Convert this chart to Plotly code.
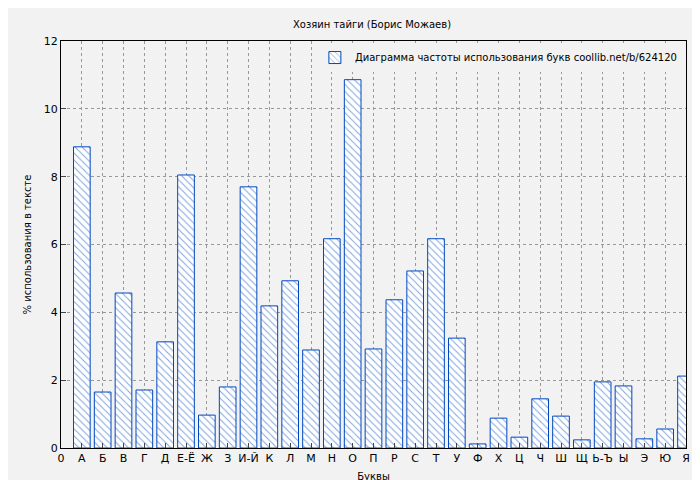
import plotly.graph_objects as go

letters = ["А","Б","В","Г","Д","Е-Ё","Ж","З","И-Й","К","Л","М","Н","О","П","Р","С","Т","У","Ф","Х","Ц","Ч","Ш","Щ","Ь-Ъ","Ы","Э","Ю","Я"]
values = [8.88,1.65,4.57,1.71,3.13,8.05,0.97,1.80,7.70,4.19,4.93,2.89,6.17,10.86,2.92,4.37,5.22,6.17,3.24,0.12,0.88,0.32,1.45,0.94,0.24,1.95,1.83,0.27,0.56,2.12]
positions = list(range(1, len(letters) + 1))

fig = go.Figure(go.Bar(
    x=positions, y=values, width=0.8,
    name="Диаграмма частоты использования букв coollib.net/b/624120",
    marker=dict(color="white", line=dict(color="#0048c0", width=1),
                pattern=dict(shape="\\", fgcolor="#0048c0", size=5, solidity=0.2)),
    showlegend=True,
))
fig.update_layout(
    width=700, height=480,
    paper_bgcolor="#f2f2f2", plot_bgcolor="#f2f2f2",
    margin=dict(l=53, r=22, t=33, b=40, autoexpand=False),
    font=dict(family="DejaVu Sans", size=11, color="black"),
    title=dict(text="Хозяин тайги (Борис Можаев)", x=0.52, y=0.965, xanchor="center", yanchor="middle", font=dict(size=10)),
    legend=dict(x=0.995, y=0.995, xanchor="right", yanchor="top", bgcolor="#f2f2f2",
                font=dict(size=10)),
    bargap=0.2,
)
fig.update_xaxes(range=[0, 30], tickvals=[0] + positions, ticktext=["0"] + letters, automargin=False,
                 showgrid=True, gridcolor="#999", griddash="dot", showline=True, linecolor="black",
                 mirror=True, ticks="inside", title=dict(text="Буквы", font=dict(size=10), standoff=8))
fig.update_yaxes(range=[0, 12], dtick=2, showgrid=True, gridcolor="#999", griddash="dot", automargin=False,
                 showline=True, linecolor="black", mirror=True, ticks="inside", zeroline=False,
                 title=dict(text="% использования в тексте", font=dict(size=10), standoff=10))
fig.write_html("out.html")
